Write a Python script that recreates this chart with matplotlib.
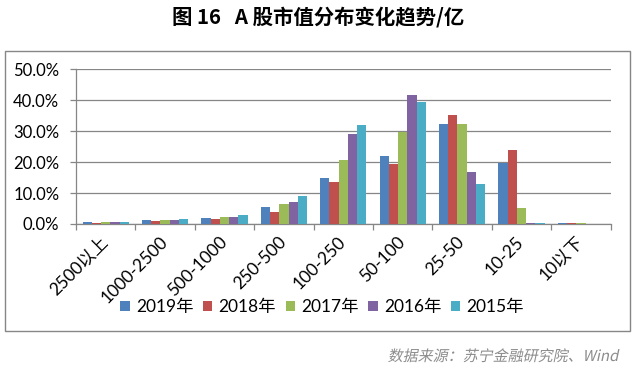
import numpy as np
import matplotlib
matplotlib.use('Agg')
import matplotlib.pyplot as plt
from matplotlib.patches import Rectangle, PathPatch
from matplotlib.textpath import TextPath
from matplotlib.font_manager import FontProperties
from matplotlib.transforms import Affine2D, IdentityTransform
from matplotlib.ticker import FuncFormatter

plt.rcParams['font.family'] = ['Lato', 'Noto Sans CJK SC', 'DejaVu Sans']

# data (percent share of A-share stocks by market cap bucket, unit: 亿)
categories = ['2500以上', '1000-2500', '500-1000', '250-500', '100-250',
              '50-100', '25-50', '10-25', '10以下']
years = ['2019年', '2018年', '2017年', '2016年', '2015年']
v2019 = [0.7, 1.3, 1.9, 5.5, 14.9, 22.0, 32.3, 19.8, 0.3]
v2018 = [0.4, 1.0, 1.6, 3.9, 13.6, 19.4, 35.2, 23.9, 0.3]
v2017 = [0.7, 1.3, 2.3, 6.5, 20.7, 29.8, 32.3, 5.2, 0.3]
v2016 = [0.7, 1.3, 2.3, 7.1, 29.1, 41.7, 16.8, 0.3, 0.0]
v2015 = [0.7, 1.6, 2.9, 9.1, 32.0, 39.4, 12.9, 0.3, 0.0]
series = [v2019, v2018, v2017, v2016, v2015]
colors = ['#4F81BD', '#C0504D', '#9BBB59', '#8064A2', '#4BACC6']

W, H = 635, 369
fig = plt.figure(figsize=(W / 100, H / 100), dpi=100)

# outer frame of the chart
fig.patches.append(Rectangle((5 / W, 1 - 331 / H), 625 / W, 280 / H,
                             transform=fig.transFigure, fill=False,
                             edgecolor='#868686', lw=1))

ax = fig.add_axes([76 / W, 1 - 224 / H, 534.6 / W, 154.7 / H])

x = np.arange(len(categories))
bw = 0.155
for i, (vals, c, lab) in enumerate(zip(series, colors, years)):
    ax.bar(x + (i - 2) * bw, np.array(vals) / 100, width=bw, color=c,
           label=lab, zorder=3)

ax.set_xlim(-0.5, len(categories) - 0.5)
ax.set_ylim(0, 0.5)
ax.set_yticks(np.arange(0, 0.51, 0.1))
ax.yaxis.set_major_formatter(FuncFormatter(lambda v, p: '%.1f%%' % (v * 100)))
ax.yaxis.grid(True, color='#868686', lw=0.9, zorder=0)

ax.set_xticks(x)
ax.set_xticklabels(categories, rotation=45, ha='right', va='center',
                   rotation_mode='anchor')
ax.set_xticks(np.arange(-0.5, len(categories), 1), minor=True)
ax.tick_params(axis='x', which='major', length=0, pad=11, labelsize=12.5)
ax.tick_params(axis='x', which='minor', length=4, color='#868686', width=0.9)
ax.tick_params(axis='y', length=4, color='#868686', width=0.9, labelsize=12, pad=8)

for s in ['top', 'right']:
    ax.spines[s].set_visible(False)
for s in ['left', 'bottom']:
    ax.spines[s].set_color('#868686')
    ax.spines[s].set_linewidth(0.9)

ax.legend(loc='center', bbox_to_anchor=(322 / W, 1 - 307 / H),
          bbox_transform=fig.transFigure, ncol=5, frameon=False,
          fontsize=12.5, handlelength=0.55, handleheight=0.55,
          handletextpad=0.35, columnspacing=0.55)

fig.text(318 / W, 1 - 17 / H, '图 16   A 股市值分布变化趋势/亿', ha='center', va='center',
         fontsize=14.7, fontweight='bold', family=['Noto Sans CJK SC', 'DejaVu Sans'])

# source note, slanted like the original italic
src = '数据来源：苏宁金融研究院、Wind'
tp = TextPath((0, 0), src, size=15, prop=FontProperties(family='Noto Sans CJK SC'))
ext = tp.get_extents()
tr = Affine2D().skew_deg(12, 0).translate(620 - ext.x1 - 3, H - 361)
fig.patches.append(PathPatch(tr.transform_path(tp), transform=IdentityTransform(),
                             facecolor='#8C8C8C', edgecolor='none'))

fig.savefig('out.png', dpi=100)
